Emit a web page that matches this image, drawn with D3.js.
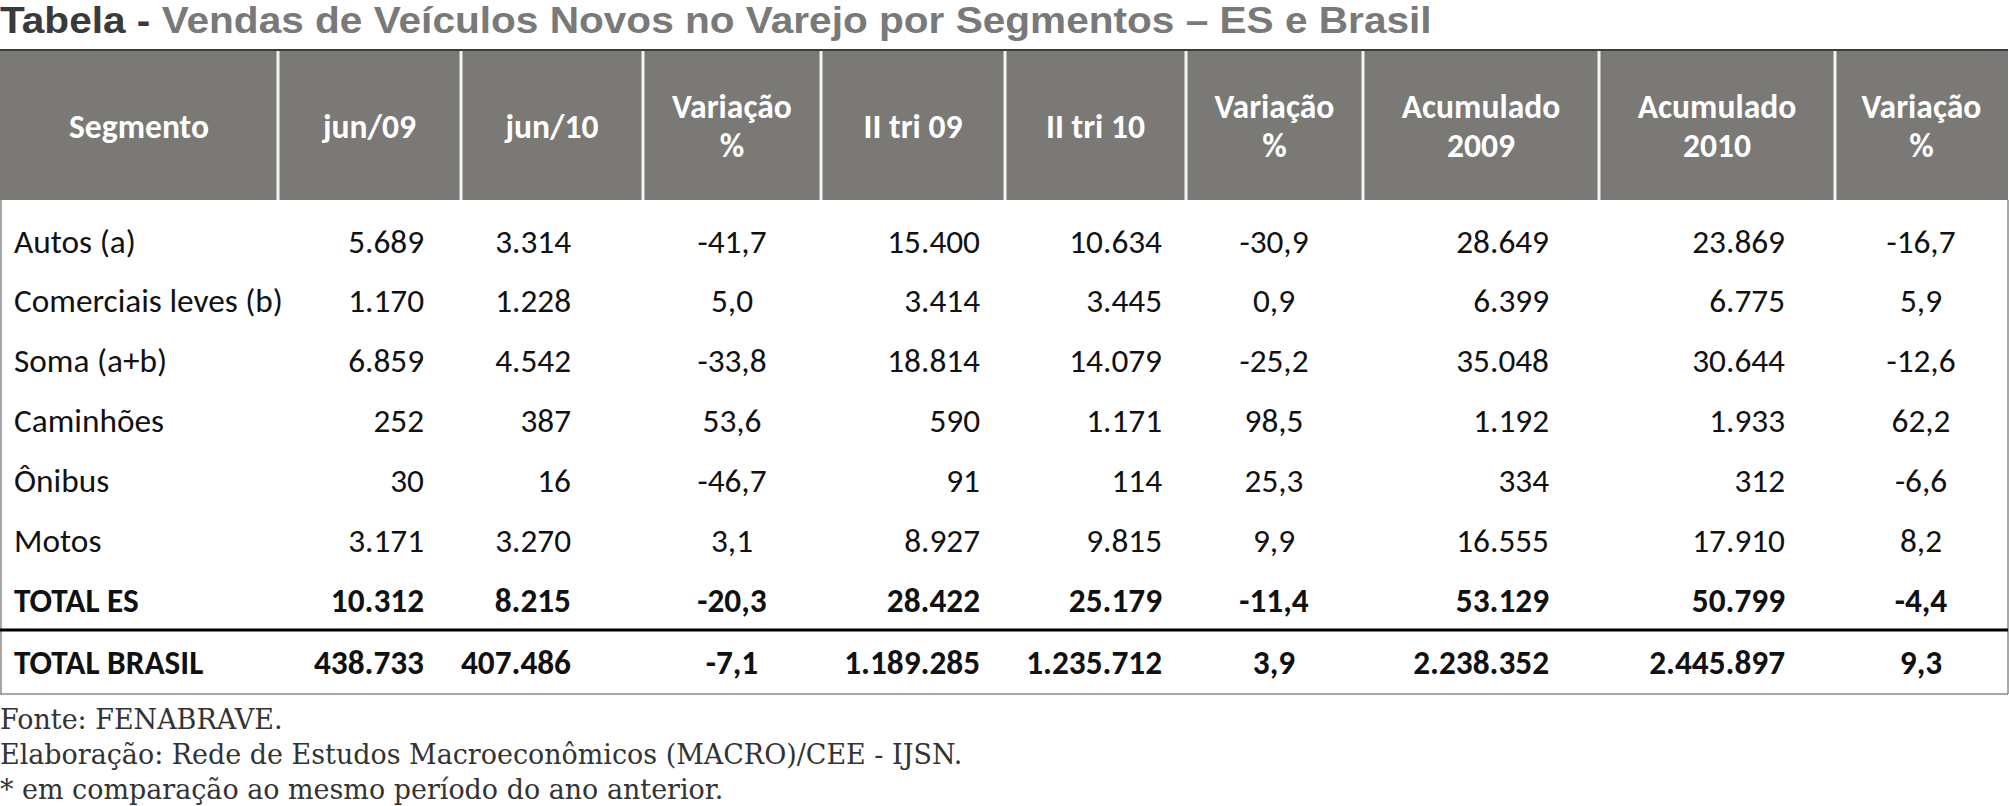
<!DOCTYPE html>
<html>
<head>
<meta charset="utf-8">
<script src="https://cdn.jsdelivr.net/npm/d3@7"></script>
<style>
  body { margin: 0; background: #fff; }
  svg { display: block; }
</style>
</head>
<body>
<svg width="2009" height="806"></svg>
<script>
const segments = ["Autos (a)", "Comerciais leves (b)", "Soma (a+b)", "Caminhões", "Ônibus", "Motos", "TOTAL ES", "TOTAL BRASIL"];
const headers = [["Segmento"], ["jun/09"], ["jun/10"], ["Variação", "%"], ["II tri 09"], ["II tri 10"], ["Variação", "%"], ["Acumulado", "2009"], ["Acumulado", "2010"], ["Variação", "%"]];
const jun09 = [5689, 1170, 6859, 252, 30, 3171, 10312, 438733];
const jun10 = [3314, 1228, 4542, 387, 16, 3270, 8215, 407486];
const varJun = [-41.7, 5.0, -33.8, 53.6, -46.7, 3.1, -20.3, -7.1];
const tri09 = [15400, 3414, 18814, 590, 91, 8927, 28422, 1189285];
const tri10 = [10634, 3445, 14079, 1171, 114, 9815, 25179, 1235712];
const varTri = [-30.9, 0.9, -25.2, 98.5, 25.3, 9.9, -11.4, 3.9];
const acum09 = [28649, 6399, 35048, 1192, 334, 16555, 53129, 2238352];
const acum10 = [23869, 6775, 30644, 1933, 312, 17910, 50799, 2445897];
const varAcum = [-16.7, 5.9, -12.6, 62.2, -6.6, 8.2, -4.4, 9.3];
const notes = ["Fonte: FENABRAVE.", "Elaboração: Rede de Estudos Macroeconômicos (MACRO)/CEE - IJSN.", "* em comparação ao mesmo período do ano anterior."];

const columns = [jun09, jun10, varJun, tri09, tri10, varTri, acum09, acum10, varAcum];
const isVar = [false, false, true, false, false, true, false, false, true];

const svg = d3.select("svg");
const bodyFont = "Carlito, Calibri, Lato, sans-serif";

const br = d3.formatLocale({ decimal: ",", thousands: ".", grouping: [3], currency: ["R$", ""], minus: "-" });
const fmtInt = br.format(",d");
const fmtVar = br.format(".1f");

// layout
const colEdges = [0, 278, 461, 643, 821, 1005, 1186, 1363, 1599, 1835, 2008];
const numAnchor = [424, 571, 732, 980, 1162, 1274, 1549, 1785, 1921];
const headTop = 50, headBottom = 200;

const x = d3.scaleOrdinal().domain(d3.range(colEdges.length)).range(colEdges);
const yEs = d3.scaleBand().domain(segments.slice(0, 7)).range([211, 630]);
const yBr = d3.scaleBand().domain(segments.slice(7)).range([630, 694]);
const y = s => (segments.indexOf(s) < 7 ? yEs(s) + yEs.bandwidth() / 2 : yBr(s) + yBr.bandwidth() / 2);

// measure helper to size fonts to the reference widths
function fitSize(text, family, weight, target) {
  const t = svg.append("text").attr("font-family", family).attr("font-weight", weight)
    .attr("font-size", 100).text(text);
  const w = t.node().getComputedTextLength();
  t.remove();
  return 100 * target / w;
}
const bodySize = fitSize("Comerciais leves (b)", bodyFont, "normal", 269);
const headSize = fitSize("Segmento", bodyFont, "bold", 140);

// title
const title = svg.append("text")
  .attr("x", 0).attr("y", 33)
  .attr("font-family", "Liberation Sans, Arial, sans-serif")
  .attr("font-weight", "bold")
  .attr("font-size", 36.5);
title.append("tspan").attr("fill", "#3a3a3a").text("Tabela - ");
title.append("tspan").attr("fill", "#797979").text("Vendas de Veículos Novos no Varejo por Segmentos – ES e Brasil");
const tw = title.node().getComputedTextLength();
title.attr("transform", `scale(${1432 / tw},1)`);

// header
svg.append("rect")
  .attr("x", 0).attr("y", headTop)
  .attr("width", colEdges[colEdges.length - 1]).attr("height", headBottom - headTop)
  .attr("fill", "#7a7976");

svg.append("line")
  .attr("x1", 0).attr("x2", colEdges[colEdges.length - 1])
  .attr("y1", headTop).attr("y2", headTop)
  .attr("stroke", "#3c3c3c").attr("stroke-width", 2);

svg.selectAll("line.sep")
  .data(d3.range(1, colEdges.length - 1))
  .enter().append("line")
  .attr("class", "sep")
  .attr("x1", d => x(d)).attr("x2", d => x(d))
  .attr("y1", headTop + 1).attr("y2", headBottom)
  .attr("stroke", "#f4f4f4").attr("stroke-width", 3);

const headMid = (headTop + headBottom) / 2;
const headG = svg.selectAll("text.head")
  .data(headers)
  .enter().append("text")
  .attr("class", "head")
  .attr("font-family", bodyFont)
  .attr("font-weight", "bold")
  .attr("font-size", headSize)
  .attr("fill", "#fff")
  .attr("text-anchor", "middle");

headG.each(function (lines, i) {
  const cx = (x(i) + x(i + 1)) / 2;
  d3.select(this).selectAll("tspan")
    .data(lines)
    .enter().append("tspan")
    .attr("x", cx)
    .attr("y", (d, j) => headMid + 1 + (j - (lines.length - 1) / 2) * 39)
    .attr("dy", "0.35em")
    .text(d => d);
});

// body borders
const right = colEdges[colEdges.length - 1];
svg.append("line").attr("x1", 1).attr("x2", 1).attr("y1", headBottom).attr("y2", 694)
  .attr("stroke", "#8a8a8a").attr("stroke-width", 1.5);
svg.append("line").attr("x1", right).attr("x2", right).attr("y1", headBottom).attr("y2", 694)
  .attr("stroke", "#8a8a8a").attr("stroke-width", 1.5);
svg.append("line").attr("x1", 0).attr("x2", right).attr("y1", 694).attr("y2", 694)
  .attr("stroke", "#8a8a8a").attr("stroke-width", 1.5);
svg.append("line").attr("x1", 0).attr("x2", right).attr("y1", 630).attr("y2", 630)
  .attr("stroke", "#000").attr("stroke-width", 3);

// rows
const rows = svg.selectAll("g.row")
  .data(segments)
  .enter().append("g")
  .attr("class", "row")
  .attr("transform", d => `translate(0,${y(d)})`)
  .attr("font-family", bodyFont)
  .attr("font-size", bodySize)
  .attr("font-weight", (d, i) => (i >= 6 ? "bold" : "normal"))
  .attr("fill", "#111");

rows.append("text")
  .attr("x", 14)
  .attr("dy", "0.35em")
  .text(d => d);

rows.each(function (seg, r) {
  d3.select(this).selectAll("text.val")
    .data(columns.map((col, c) => ({ c, v: col[r] })))
    .enter().append("text")
    .attr("class", "val")
    .attr("x", d => numAnchor[d.c])
    .attr("dy", "0.35em")
    .attr("text-anchor", d => (isVar[d.c] ? "middle" : "end"))
    .text(d => (isVar[d.c] ? fmtVar(d.v) : fmtInt(d.v)));
});

// notes
const noteG = svg.append("g")
  .attr("font-family", "DejaVu Serif, serif")
  .attr("font-size", 28)
  .attr("fill", "#333");
const noteText = noteG.selectAll("text")
  .data(notes)
  .enter().append("text")
  .attr("x", 0)
  .attr("y", (d, i) => 729 + i * 35)
  .text(d => d);
const nw = noteText.nodes()[1].getComputedTextLength();
noteG.attr("transform", `scale(${963 / nw},1)`);
</script>
</body>
</html>
